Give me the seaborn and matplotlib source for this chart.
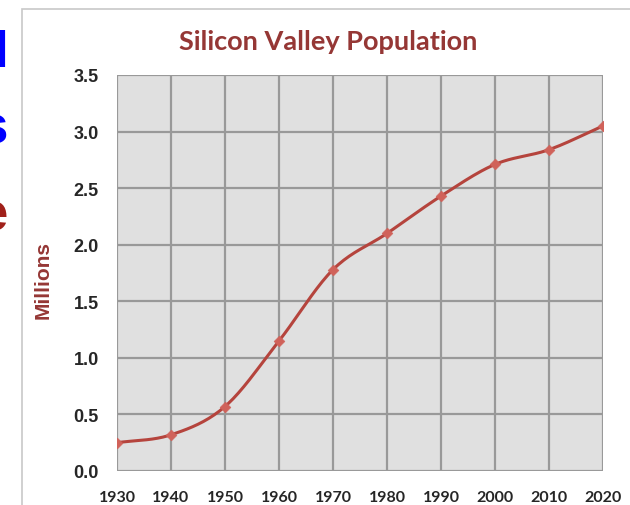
import numpy as np
import pandas as pd
import matplotlib
matplotlib.use("Agg")
import matplotlib.pyplot as plt
import seaborn as sns
from matplotlib.patches import Rectangle

years = [1930, 1940, 1950, 1960, 1970, 1980, 1990, 2000, 2010, 2020]
population = [0.25, 0.32, 0.57, 1.15, 1.78, 2.10, 2.43, 2.71, 2.84, 3.05]
y_ticks = [0.0, 0.5, 1.0, 1.5, 2.0, 2.5, 3.0, 3.5]

df = pd.DataFrame({"year": years, "pop": population})


def smooth(x, y, n=20):
    # Catmull-Rom curve through the points, like Excel's smoothed line
    x = np.asarray(x, float)
    y = np.asarray(y, float)
    px = np.concatenate([[2 * x[0] - x[1]], x, [2 * x[-1] - x[-2]]])
    py = np.concatenate([[2 * y[0] - y[1]], y, [2 * y[-1] - y[-2]]])
    xs, ys = [], []
    t = np.linspace(0, 1, n, endpoint=False)
    for i in range(1, len(px) - 2):
        for p, out in ((px, xs), (py, ys)):
            p0, p1, p2, p3 = p[i - 1], p[i], p[i + 1], p[i + 2]
            out.extend(0.5 * (2 * p1 + (-p0 + p2) * t
                              + (2 * p0 - 5 * p1 + 4 * p2 - p3) * t ** 2
                              + (-p0 + 3 * p1 - 3 * p2 + p3) * t ** 3))
    xs.append(x[-1])
    ys.append(y[-1])
    return pd.DataFrame({"year": xs, "pop": ys})


curve = smooth(years, population)

sns.set_style("white")
plt.rcParams["font.family"] = ["Liberation Sans", "DejaVu Sans"]

W, H = 630, 506
fig = plt.figure(figsize=(6.3, 5.06), dpi=100)
ax = fig.add_axes([117 / W, 1 - 472 / H, (603 - 117) / W, (472 - 76) / H])
ax.set_facecolor("#e0e0e0")

# chart frame of the slide
fig.patches.append(Rectangle((22 / W, -0.1), 1.0, 1.0 - 10 / H + 0.1,
                             transform=fig.transFigure, fill=False,
                             edgecolor="#c8c8c8", linewidth=1.2))

sns.lineplot(data=curve, x="year", y="pop", ax=ax, color="#b5443d",
             linewidth=2.2, zorder=3)
sns.scatterplot(data=df, x="year", y="pop", ax=ax, marker="D", s=30,
                color="#d0625a", edgecolor="#d0625a", zorder=4)

ax.set_xlim(1930, 2020)
ax.set_ylim(0, 3.5)
ax.set_xticks(years)
ax.set_yticks(y_ticks)
ax.set_yticklabels([f"{v:.1f}" for v in y_ticks], fontweight="bold", fontsize=13)
ax.set_xticklabels([str(v) for v in years], fontweight="bold", fontsize=11.5,
                   family=["Lato", "DejaVu Sans"])
ax.grid(True, color="#999999", linewidth=1.6)
ax.set_axisbelow(True)
for s in ax.spines.values():
    s.set_visible(False)
ax.tick_params(axis="both", length=6, width=1.5, color="#999999")
ax.tick_params(axis="y", pad=7)
ax.tick_params(axis="x", pad=8)

ax.set_xlabel("")
ax.set_ylabel("")
fig.text(43 / W, 1 - 280 / H, "Millions", color="#953735", fontweight="bold",
         fontsize=15, rotation=90, ha="center", va="center")
fig.text(328 / W, 1 - 42 / H, "Silicon Valley Population", color="#953735",
         fontweight="bold", fontsize=19.5, family=["Lato", "DejaVu Sans"],
         ha="center", va="center")

# cut-off slide text at the left edge
fig.text(8 / W, 1 - 53 / H, "I", color="#0000ff", fontsize=38,
         fontweight="bold", ha="right", va="center")
fig.text(7 / W, 1 - 130 / H, "s", color="#0000ff", fontsize=38,
         fontweight="bold", ha="right", va="center")
fig.text(8 / W, 1 - 217 / H, "e", color="#a0201a", fontsize=38,
         fontweight="bold", ha="right", va="center")

fig.savefig("out.png", dpi=100)
